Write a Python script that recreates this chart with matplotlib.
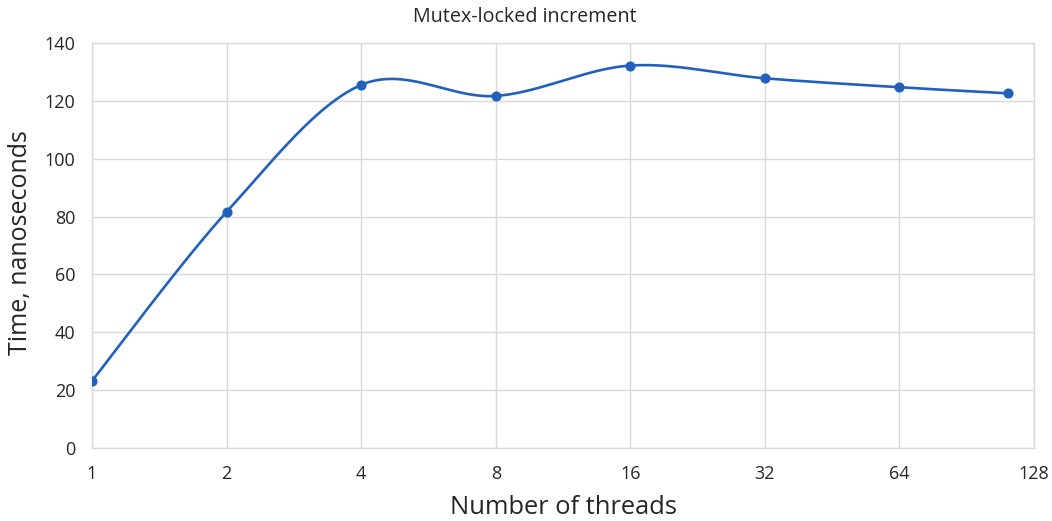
import numpy as np
import matplotlib
matplotlib.use("Agg")
import matplotlib.pyplot as plt

threads = [1, 2, 4, 8, 16, 32, 64, 112]
time_ns = [23.2, 81.6, 125.5, 121.7, 132.2, 127.8, 124.7, 122.6]
xticks = [1, 2, 4, 8, 16, 32, 64, 128]
xtick_labels = ["1", "2", "4", "8", "16", "32", "64", "128"]
yticks = [0, 20, 40, 60, 80, 100, 120, 140]

plt.rcParams['font.family'] = ['Open Sans', 'DejaVu Sans']

W, H = 1052, 521
fig = plt.figure(figsize=(W / 100, H / 100), dpi=100)
ax = fig.add_axes([92 / W, 1 - 448 / H, (1034 - 92) / W, (448 - 43) / H])

color = '#2161BD'

# Excel-like smoothed line (Catmull-Rom / Bezier) in display-proportional units
sx = 941.5 / 7.0
sy = 405.0 / 140.0
u = np.log2(np.array(threads, float)) * sx
v = np.array(time_ns, float) * sy
P = np.column_stack([u, v])
n = len(P)
curve = []
for i in range(n - 1):
    p0 = P[i - 1] if i > 0 else P[i]
    p1 = P[i]
    p2 = P[i + 1]
    p3 = P[i + 2] if i + 2 < n else P[i + 1]
    c1 = p1 + (p2 - p0) / 6.0
    c2 = p2 - (p3 - p1) / 6.0
    t = np.linspace(0, 1, 40)[:, None]
    seg = ((1 - t) ** 3) * p1 + 3 * ((1 - t) ** 2) * t * c1 + 3 * (1 - t) * t ** 2 * c2 + t ** 3 * p2
    curve.append(seg if i == 0 else seg[1:])
curve = np.vstack(curve)
cx = 2 ** (curve[:, 0] / sx)
cy = curve[:, 1] / sy

ax.set_xscale('log', base=2)
ax.plot(cx, cy, color=color, lw=1.9, solid_capstyle='round', zorder=3)
ax.plot(threads, time_ns, 'o', color=color, markersize=6.3, zorder=4)

ax.set_xlim(1, 128)
ax.set_ylim(0, 140)
ax.set_xticks(xticks)
ax.set_xticklabels(xtick_labels)
ax.xaxis.set_minor_locator(matplotlib.ticker.NullLocator())
ax.set_yticks(yticks)
ax.grid(True, color='#d9d9d9', lw=1.0, zorder=0)
for s in ax.spines.values():
    s.set_color('#d9d9d9')
    s.set_linewidth(1.0)
ax.tick_params(length=0, labelsize=13, colors='#404040')
ax.tick_params(axis='x', pad=12.5)
ax.tick_params(axis='y', pad=12)
for lbl in ax.get_xticklabels() + ax.get_yticklabels():
    lbl.set_color('#262626')

fig.text(525 / W, 1 - 17 / H, 'Mutex-locked increment', ha='center', va='center',
         fontsize=14.2, color='#262626')
fig.text(563 / W, 1 - 507 / H, 'Number of threads', ha='center', va='center',
         fontsize=18.4, color='#262626')
fig.text(21 / W, 1 - 243 / H, 'Time, nanoseconds', ha='center', va='center', rotation=90,
         fontsize=18, color='#262626')

fig.savefig('out.png', dpi=100)
